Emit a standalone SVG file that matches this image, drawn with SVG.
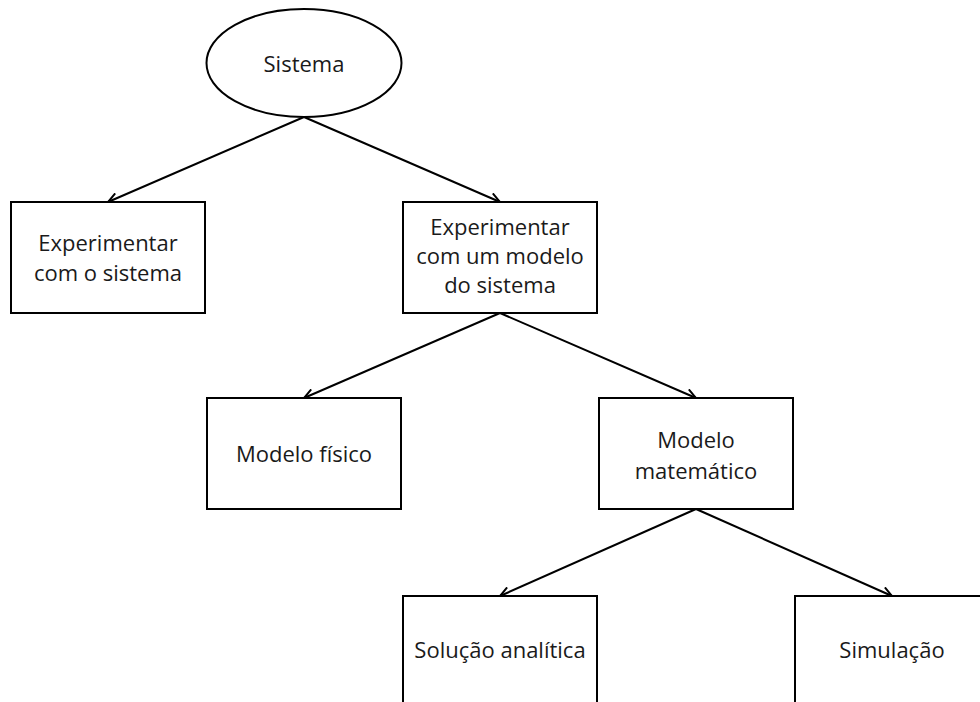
<svg xmlns="http://www.w3.org/2000/svg" width="980" height="702" viewBox="0 0 980 702">
  <defs>
    <marker id="open-arrow" viewBox="0 0 12 12" refX="11" refY="6" markerWidth="12" markerHeight="12" markerUnits="userSpaceOnUse" orient="auto">
      <path d="M1,1 L11,6 L1,11" fill="none" stroke="#000" stroke-width="2"/>
    </marker>
    <style>
      .shape { fill: #fff; stroke: #000; stroke-width: 2; }
      .label { font-family: "Open Sans", "Noto Sans", "Liberation Sans", sans-serif; font-size: 22px; fill: #1a1a1a; text-anchor: middle; }
      .edge { fill: none; stroke: #000; stroke-width: 2; marker-end: url(#open-arrow); }
    </style>
  </defs>
  <rect width="980" height="702" fill="#fff"/>

  <g id="connectors">
    <line class="edge" x1="304" y1="117" x2="108" y2="202"/>
    <line class="edge" x1="304" y1="117" x2="500" y2="202"/>
    <line class="edge" x1="500" y1="313" x2="304" y2="398"/>
    <line class="edge" x1="500" y1="313" x2="696" y2="398"/>
    <line class="edge" x1="696" y1="509" x2="500" y2="596"/>
    <line class="edge" x1="696" y1="509" x2="892" y2="596"/>
  </g>

  <g id="sistema">
    <ellipse class="shape" cx="304" cy="63" rx="97.5" ry="54"/>
    <text class="label" x="304" y="72">Sistema</text>
  </g>

  <g id="experimentar-sistema">
    <rect class="shape" x="11" y="202" width="194" height="111"/>
    <text class="label" x="108" y="251">Experimentar</text>
    <text class="label" x="108" y="281">com o sistema</text>
  </g>

  <g id="experimentar-modelo">
    <rect class="shape" x="403" y="202" width="194" height="111"/>
    <text class="label" x="500" y="235">Experimentar</text>
    <text class="label" x="500" y="264">com um modelo</text>
    <text class="label" x="500" y="293">do sistema</text>
  </g>

  <g id="modelo-fisico">
    <rect class="shape" x="207" y="398" width="194" height="111"/>
    <text class="label" x="304" y="462">Modelo físico</text>
  </g>

  <g id="modelo-matematico">
    <rect class="shape" x="599" y="398" width="194" height="111"/>
    <text class="label" x="696" y="448">Modelo</text>
    <text class="label" x="696" y="479">matemático</text>
  </g>

  <g id="solucao-analitica">
    <rect class="shape" x="403" y="596" width="194" height="111"/>
    <text class="label" x="500" y="658">Solução analítica</text>
  </g>

  <g id="simulacao">
    <rect class="shape" x="795" y="596" width="194" height="111"/>
    <text class="label" x="892" y="658">Simulação</text>
  </g>
</svg>
